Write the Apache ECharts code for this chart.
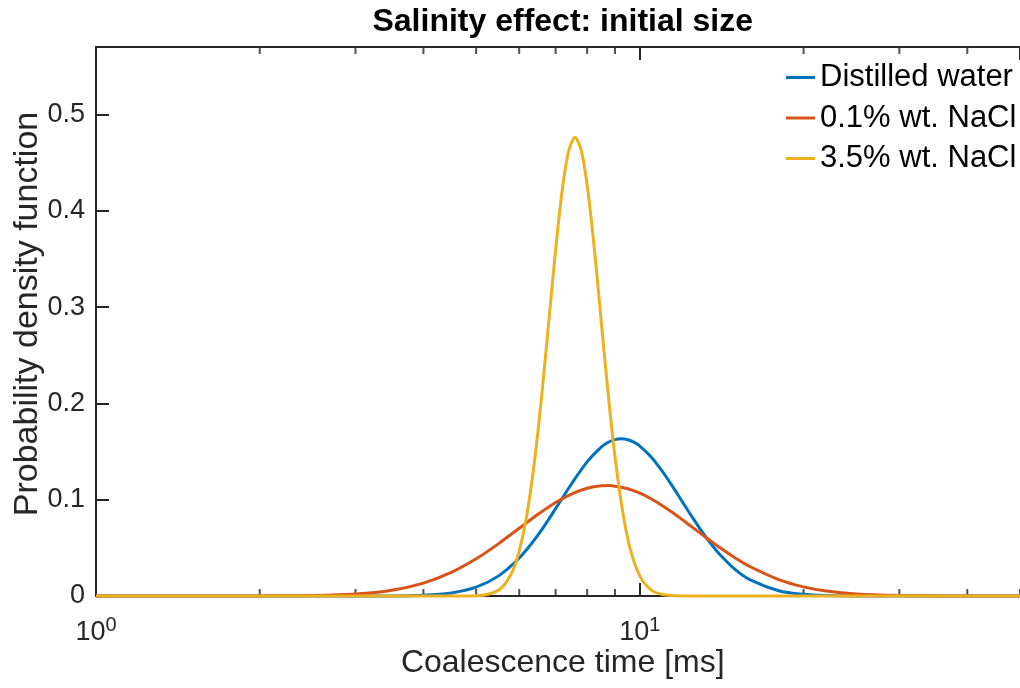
<!DOCTYPE html>
<html>
<head>
<meta charset="utf-8">
<script src="https://cdn.jsdelivr.net/npm/echarts@6/dist/echarts.min.js"></script>
<style>
html,body{margin:0;padding:0;background:#fff;}
#chart{width:1020px;height:688px;}
</style>
</head>
<body>
<div id="chart"></div>
<script>
// ---- data ----
const seriesNames = ['Distilled water', '0.1% wt. NaCl', '3.5% wt. NaCl'];
const seriesColors = ['#0072BD', '#D95319', '#EDB120'];

const waterX = [1, 2, 3, 3.5, 4, 4.5, 5, 5.5, 6, 6.5, 7, 7.5, 8, 8.5, 8.75, 9, 9.25, 9.5, 9.75, 10, 10.5, 11, 11.5, 12, 12.5, 13, 13.5, 14, 15, 16, 18, 20, 22, 25, 30, 40, 50];
const waterY = [0, 0, 0, 0.0001, 0.0008, 0.0032, 0.0092, 0.0209, 0.0394, 0.0635, 0.0907, 0.1171, 0.1393, 0.1548, 0.1596, 0.1624, 0.1632, 0.1623, 0.1597, 0.1556, 0.1441, 0.1294, 0.1133, 0.0969, 0.0813, 0.0671, 0.0545, 0.0437, 0.0272, 0.0164, 0.0055, 0.0017, 0.0005, 0.0001, 0, 0, 0];

const nacl01X = [1, 1.5, 2, 2.5, 3, 3.5, 4, 4.5, 5, 5.5, 6, 6.5, 7, 7.5, 8, 8.5, 8.75, 9, 9.5, 10, 10.5, 11, 11.5, 12, 12.5, 13, 13.5, 14, 15, 16, 18, 20, 22, 25, 30, 35, 40, 50];
const nacl01Y = [0, 0, 0.0001, 0.0005, 0.0020, 0.0060, 0.0134, 0.0245, 0.0386, 0.0544, 0.0704, 0.0849, 0.0971, 0.1061, 0.1119, 0.1144, 0.1146, 0.1140, 0.1113, 0.1067, 0.1007, 0.0938, 0.0864, 0.0788, 0.0712, 0.0640, 0.0571, 0.0506, 0.0393, 0.0301, 0.0171, 0.0095, 0.0052, 0.0021, 0.0005, 0.0001, 0, 0];

const nacl35X = [1, 2, 3, 4, 4.5, 5, 5.5, 5.8, 6, 6.2, 6.4, 6.6, 6.8, 7, 7.2, 7.4, 7.6, 7.8, 8, 8.2, 8.4, 8.6, 8.8, 9, 9.3, 9.6, 10, 10.5, 11, 12, 13, 20, 30, 50];
const nacl35Y = [0, 0, 0, 0, 0, 0.0003, 0.0061, 0.0228, 0.0466, 0.0848, 0.1394, 0.2081, 0.2846, 0.3594, 0.4217, 0.4623, 0.4761, 0.4629, 0.4267, 0.3743, 0.3137, 0.2518, 0.1944, 0.1448, 0.0872, 0.0490, 0.0207, 0.0061, 0.0016, 0.0001, 0, 0, 0, 0];

const xMin = 1, xMax = 50;
const yMin = 0, yMax = 0.57, yStep = 0.1;
const xMajorTicks = [1, 10];
const xTickExponents = ['0', '1'];
const xMinorTicks = [2, 3, 4, 5, 6, 7, 8, 9, 20, 30, 40, 50];
const yTicks = [0, 0.1, 0.2, 0.3, 0.4, 0.5];
const yTickLabels = ['0', '0.1', '0.2', '0.3', '0.4', '0.5'];

const titleText = 'Salinity effect: initial size';
const xLabelText = 'Coalescence time [ms]';
const yLabelText = 'Probability density function';

// ---- build chart ----
const FONT = "'Liberation Sans', Arial, Helvetica, sans-serif";
const AX = '#262626';
const pairs = (xs, ys) => xs.map((x, i) => [x, ys[i]]);
const seriesData = [pairs(waterX, waterY), pairs(nacl01X, nacl01Y), pairs(nacl35X, nacl35Y)];

const gridLeft = 96, gridTop = 47, gridWidth = 933.5, gridHeight = 549;

const chart = echarts.init(document.getElementById('chart'), null, {renderer: 'canvas'});

const lineSeries = seriesNames.map((name, i) => ({
  name: name,
  type: 'line',
  data: seriesData[i],
  xAxisIndex: 0,
  yAxisIndex: 0,
  symbol: 'none',
  showSymbol: false,
  smooth: 0.3,
  clip: false,
  lineStyle: {color: seriesColors[i], width: 3},
  itemStyle: {color: seriesColors[i]},
  z: 3 + i
}));

const minorBottom = {
  type: 'scatter', xAxisIndex: 0, yAxisIndex: 0, silent: true, clip: false,
  data: xMinorTicks.map(v => [v, yMin]),
  symbol: 'rect', symbolSize: [2, 7], symbolOffset: [0, -3.5],
  itemStyle: {color: AX}, z: 1
};
const minorTop = {
  type: 'scatter', xAxisIndex: 0, yAxisIndex: 0, silent: true, clip: false,
  data: xMinorTicks.map(v => [v, yMax]),
  symbol: 'rect', symbolSize: [2, 7], symbolOffset: [0, 3.5],
  itemStyle: {color: AX}, z: 1
};

const option = {
  backgroundColor: '#ffffff',
  animation: false,
  grid: {left: gridLeft, top: gridTop, width: gridWidth, height: gridHeight, containLabel: false},
  legend: {
    data: seriesNames.map(n => ({name: n, icon: 'rect'})),
    orient: 'vertical',
    left: 786, top: 62,
    padding: 0,
    itemWidth: 29, itemHeight: 3, itemGap: 9.5,
    textStyle: {fontFamily: FONT, fontSize: 31, color: '#000', lineHeight: 30},
    selectedMode: false
  },
  xAxis: [{
    type: 'log', logBase: 10, min: xMin, max: xMax,
    position: 'bottom',
    axisLine: {show: true, lineStyle: {color: AX, width: 2}},
    axisTick: {show: true, inside: true, length: 13, lineStyle: {color: AX, width: 2}},
    splitLine: {show: false},
    axisLabel: {
      show: true, margin: 19, showMaxLabel: false,
      formatter: function (v) {
        const k = xMajorTicks.findIndex(t => Math.abs(t - v) < 1e-9);
        return k < 0 ? '' : '{b|10}{s|' + xTickExponents[k] + '}';
      },
      rich: {
        b: {fontFamily: FONT, fontSize: 27, color: AX, lineHeight: 35},
        s: {fontFamily: FONT, fontSize: 20, color: AX, lineHeight: 20, verticalAlign: 'top'}
      }
    }
  }, {
    type: 'log', logBase: 10, min: xMin, max: xMax,
    position: 'top',
    axisLine: {show: true, lineStyle: {color: AX, width: 2}},
    axisTick: {show: true, inside: true, length: 13, lineStyle: {color: AX, width: 2}},
    axisLabel: {show: false},
    splitLine: {show: false}
  }],
  yAxis: [{
    type: 'value', min: yMin, max: yMax, interval: yStep,
    position: 'left',
    axisLine: {show: true, lineStyle: {color: AX, width: 2}},
    axisTick: {show: true, inside: true, length: 13, lineStyle: {color: AX, width: 2}},
    splitLine: {show: false},
    axisLabel: {
      show: true, margin: 11, showMaxLabel: false,
      fontFamily: FONT, fontSize: 27, color: AX,
      formatter: function (v) {
        const k = yTicks.findIndex(t => Math.abs(t - v) < 1e-9);
        return k < 0 ? '' : yTickLabels[k];
      }
    }
  }],
  series: lineSeries.concat([minorBottom, minorTop]),
  graphic: [
    {type: 'text', x: gridLeft + gridWidth / 2, y: 22, silent: true,
     style: {text: titleText, font: "bold 32px 'Liberation Sans', Arial, sans-serif", fill: '#000', align: 'center', verticalAlign: 'middle'}},
    {type: 'text', x: gridLeft + gridWidth / 2, y: 663, silent: true,
     style: {text: xLabelText, font: "32px 'Liberation Sans', Arial, sans-serif", fill: AX, align: 'center', verticalAlign: 'middle'}},
    {type: 'text', x: 28, y: 314, rotation: Math.PI / 2, silent: true,
     style: {text: yLabelText, font: "34px 'Liberation Sans', Arial, sans-serif", fill: AX, align: 'center', verticalAlign: 'middle'}}
  ]
};
chart.setOption(option);
</script>
</body>
</html>
